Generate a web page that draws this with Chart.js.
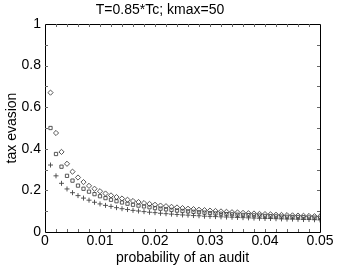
<!DOCTYPE html>
<html><head><meta charset="utf-8">
<script src="https://cdn.jsdelivr.net/npm/chart.js@4"></script>
<style>html,body{margin:0;padding:0;background:#fff}#wrap{width:354px;height:267px}</style>
</head><body><div id="wrap"><canvas id="c" width="354" height="267"></canvas></div>
<script>
const titleText = "T=0.85*Tc; kmax=50";
const xTitle = "probability of an audit";
const yTitle = "tax evasion";
const pAudit = [0.001,0.002,0.003,0.004,0.005,0.006,0.007,0.008,0.009,0.010,
0.011,0.012,0.013,0.014,0.015,0.016,0.017,0.018,0.019,0.020,
0.021,0.022,0.023,0.024,0.025,0.026,0.027,0.028,0.029,0.030,
0.031,0.032,0.033,0.034,0.035,0.036,0.037,0.038,0.039,0.040,
0.041,0.042,0.043,0.044,0.045,0.046,0.047,0.048,0.049,0.050];
const diamondSeries = [0.670,0.476,0.385,0.328,0.290,0.262,0.240,0.222,0.208,0.196,
0.185,0.176,0.168,0.161,0.155,0.149,0.144,0.139,0.135,0.131,
0.127,0.124,0.121,0.118,0.115,0.112,0.110,0.107,0.105,0.103,
0.101,0.099,0.097,0.095,0.094,0.092,0.090,0.089,0.087,0.086,
0.085,0.083,0.082,0.081,0.080,0.079,0.078,0.077,0.076,0.075];
const squareSeries = [0.500,0.375,0.314,0.270,0.247,0.223,0.208,0.194,0.182,0.172,
0.163,0.155,0.148,0.142,0.136,0.131,0.127,0.123,0.119,0.115,
0.112,0.109,0.106,0.103,0.101,0.099,0.097,0.095,0.093,0.091,
0.089,0.088,0.086,0.085,0.083,0.082,0.081,0.080,0.079,0.077,
0.076,0.075,0.074,0.073,0.072,0.072,0.071,0.070,0.069,0.068];
const plusSeries = [0.322,0.270,0.234,0.207,0.189,0.175,0.163,0.153,0.143,0.135,
0.128,0.123,0.117,0.112,0.108,0.104,0.101,0.098,0.095,0.093,
0.090,0.088,0.086,0.084,0.082,0.081,0.079,0.078,0.076,0.075,
0.074,0.073,0.072,0.071,0.070,0.069,0.068,0.067,0.066,0.065,
0.065,0.064,0.063,0.062,0.062,0.061,0.060,0.060,0.059,0.058];
const xTickLabels = [0, 0.01, 0.02, 0.03, 0.04, 0.05];
const yTickLabels = [0, 0.2, 0.4, 0.6, 0.8, 1];

const FONT = "'Liberation Sans', Arial, Helvetica, sans-serif";
const pts = arr => arr.map((v, i) => ({x: pAudit[i], y: v}));

const boxTicks = {
  id: 'boxTicks',
  afterDatasetsDraw(chart) {
    const {ctx, chartArea: a, scales: {x, y}} = chart;
    ctx.save();
    ctx.strokeStyle = '#000';
    ctx.lineWidth = 1;
    ctx.beginPath();
    ctx.rect(Math.round(a.left) + 0.5, Math.round(a.top) + 0.5, Math.round(a.right - a.left), Math.round(a.bottom - a.top));
    ctx.stroke();
    ctx.strokeStyle = '#666';
    const L = 3;
    ctx.beginPath();
    for (let k = 1; k < 25; k++) {
      const px = Math.round(x.getPixelForValue(k * 0.002)) + 0.5;
      ctx.moveTo(px, a.bottom); ctx.lineTo(px, a.bottom - L);
      ctx.moveTo(px, a.top); ctx.lineTo(px, a.top + L);
    }
    for (let k = 1; k < 10; k++) {
      const py = Math.round(y.getPixelForValue(k * 0.1)) + 0.5;
      ctx.moveTo(a.left, py); ctx.lineTo(a.left + L, py);
      ctx.moveTo(a.right, py); ctx.lineTo(a.right - L, py);
    }
    ctx.stroke();
    ctx.restore();
  }
};

new Chart(document.getElementById('c'), {
  type: 'scatter',
  data: {
    datasets: [
      {label: 'diamond', data: pts(diamondSeries), pointStyle: 'rectRot', radius: 2.6, borderColor: '#444', backgroundColor: 'rgba(0,0,0,0)', borderWidth: 0.9},
      {label: 'square', data: pts(squareSeries), pointStyle: 'rect', radius: 2.3, borderColor: '#444', backgroundColor: 'rgba(0,0,0,0)', borderWidth: 0.9},
      {label: 'plus', data: pts(plusSeries), pointStyle: 'cross', radius: 2.5, borderColor: '#444', backgroundColor: 'rgba(0,0,0,0)', borderWidth: 0.9}
    ]
  },
  options: {
    responsive: false,
    animation: false,
    devicePixelRatio: 1,
    layout: {padding: {left: 0, right: 34, top: 0, bottom: 0}},
    plugins: {
      legend: {display: false},
      tooltip: {enabled: false},
      title: {display: true, text: titleText, color: '#000', font: {family: FONT, size: 14, weight: 'normal'}, padding: {top: 1.5, bottom: 5.7}}
    },
    scales: {
      x: {
        type: 'linear', min: 0, max: 0.05,
        grid: {display: false, drawTicks: false},
        border: {display: false},
        afterBuildTicks: s => { s.ticks = xTickLabels.map(v => ({value: v})); },
        afterFit: s => { s.height = 35; },
        ticks: {color: '#000', font: {family: FONT, size: 14}, padding: 1, maxRotation: 0, autoSkip: false,
          callback: v => String(+v.toFixed(3))},
        title: {display: true, text: xTitle, color: '#000', font: {family: FONT, size: 14}, padding: {top: 0, bottom: 0}}
      },
      y: {
        type: 'linear', min: 0, max: 1,
        grid: {display: false, drawTicks: false},
        border: {display: false},
        afterBuildTicks: s => { s.ticks = yTickLabels.map(v => ({value: v})); },
        afterFit: s => { s.width = 45; },
        ticks: {color: '#000', font: {family: FONT, size: 14}, padding: 4,
          callback: v => String(+v.toFixed(2))},
        title: {display: true, text: yTitle, color: '#000', font: {family: FONT, size: 14}, padding: {top: 3.6, bottom: 0}}
      }
    }
  },
  plugins: [boxTicks]
});
</script>
</body></html>
